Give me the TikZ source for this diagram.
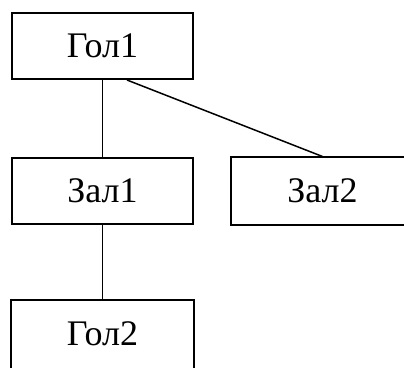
\documentclass[tikz,border=0pt]{standalone}
\usepackage{fontspec}
\setmainfont{Liberation Serif}
\begin{document}
\begin{tikzpicture}[x=1pt,y=-1pt,
  box/.style={draw=black,line width=2pt,minimum width=181pt,minimum height=66pt,inner sep=0pt,font=\fontsize{36}{40}\selectfont},
  openbox/.style={box,draw=none},
  frame/.style={draw=black,line width=2pt},
  conn/.style={draw=black,line width=1.5pt}]
\useasboundingbox (0,0) rectangle (404,367);
\clip (0,0) rectangle (404,367);
\node[box] (g1) at (102.5,46) {Гол1};
\node[box] (z1) at (102.5,190.5) {Зал1};
\node[openbox] (z2) at (322.5,190.5) {Зал2};
\draw[frame] (z2.north west) rectangle ([xshift=40pt]z2.south east);
\node[openbox] (g2) at (102.5,334) {Гол2};
\draw[frame] (g2.north west) rectangle ([yshift=-30pt]g2.south east);
\draw[conn] (g1.south) -- (z1.north);
\draw[conn] ([xshift=24.5pt]g1.south) -- (z2.north);
\draw[conn] (z1.south) -- (g2.north);
\end{tikzpicture}
\end{document}
